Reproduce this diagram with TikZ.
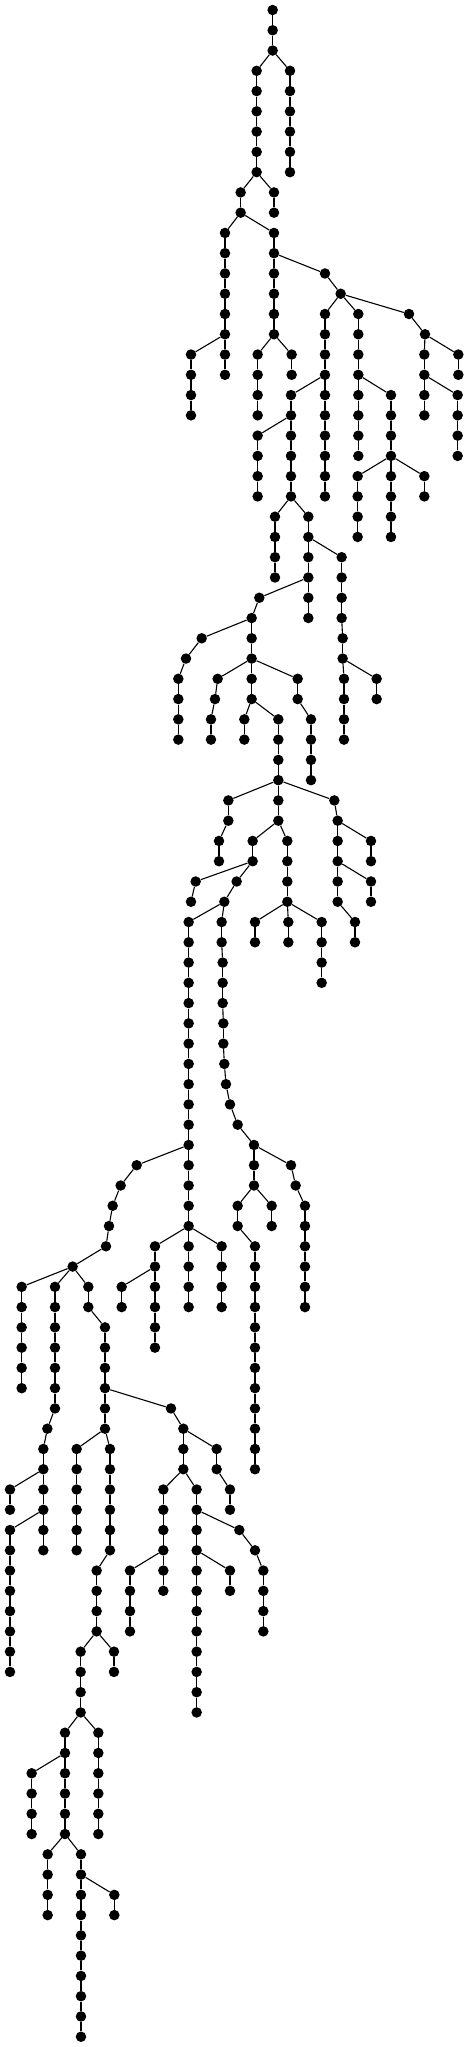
\documentclass[tikz,border=0pt]{standalone}
\tikzset{
  dot/.style={circle,fill=black,inner sep=0pt,minimum size=10.5pt},
  edge/.style={line width=1.1pt,black}
}
\newcommand\E[3]{\pgfmathtruncatemacro\pl{#1-1}\node[dot] (v#1x#2) at (#2,#1) {};\draw[edge] (v\pl x#3) -- (v#1x#2);}
\newcommand\C[3]{\foreach \l in {#2,...,#3}{\E{\l}{#1}{#1}}}
\begin{document}
\begin{tikzpicture}[x=0.333333pt,y=-20.267pt]
\useasboundingbox (0,-0.4934) rectangle (1404,100.508);
\node[dot] (v0x818) at (818,0) {};
\C{818}{1}{2}
\E{3}{770}{818} \C{770}{4}{8}
\E{3}{870}{818} \C{870}{4}{8}
\E{9}{722}{770} \E{10}{722}{722}
\E{9}{822}{770} \E{10}{822}{822}
\E{11}{675}{722} \C{675}{12}{16}
\E{11}{822}{722} \C{822}{12}{16}
\E{13}{975}{822} \E{14}{1022}{975}
\E{15}{975}{1022} \C{975}{16}{24}
\E{15}{1075}{1022} \C{1075}{16}{22}
\E{15}{1227}{1022} \E{16}{1275}{1227}
\E{17}{573}{675} \C{573}{18}{20}
\E{17}{675}{675} \E{18}{675}{675}
\E{17}{773}{822} \C{773}{18}{20}
\E{17}{875}{822} \E{18}{875}{875}
\E{17}{1273}{1275} \C{1273}{18}{20}
\E{17}{1375}{1275} \E{18}{1375}{1375}
\E{19}{873}{975} \C{873}{20}{24}
\E{19}{1173}{1075} \C{1173}{20}{22}
\E{19}{1373}{1273} \C{1373}{20}{22}
\E{21}{773}{873} \C{773}{22}{24}
\E{23}{1073}{1173} \C{1073}{24}{26}
\E{23}{1173}{1173} \C{1173}{24}{26}
\E{23}{1273}{1173} \E{24}{1273}{1273}
\E{25}{825}{873} \C{825}{26}{28}
\E{25}{925}{873} \C{925}{26}{30}
\E{27}{1025}{925} \C{1025}{28}{30}
\E{29}{778}{925} \E{30}{755}{778}
\E{31}{1028}{1025} \E{32}{1028}{1028}
\E{31}{605}{755} \E{32}{558}{605} \E{33}{535}{558} \C{535}{34}{36}
\E{31}{755}{755} \E{32}{755}{755}
\E{33}{653}{755} \E{34}{645}{653} \E{35}{633}{645} \E{36}{633}{633}
\E{33}{755}{755} \E{34}{755}{755}
\E{33}{893}{755} \E{34}{893}{893} \E{35}{933}{893} \C{933}{36}{38}
\E{33}{1032}{1028} \C{1032}{34}{36}
\E{33}{1130}{1028} \E{34}{1130}{1130}
\E{35}{733}{755} \E{36}{733}{733}
\E{35}{835}{755} \C{835}{36}{38}
\E{39}{685}{835} \E{40}{685}{685}
\E{39}{835}{835} \E{40}{835}{835}
\E{39}{1003}{835} \E{40}{1013}{1003}
\E{41}{657}{685} \E{42}{657}{657}
\E{41}{758}{835} \E{42}{758}{758}
\E{41}{862}{835} \C{862}{42}{44}
\E{41}{1013}{1013} \E{42}{1013}{1013}
\E{41}{1113}{1013} \E{42}{1113}{1113}
\E{43}{1013}{1013} \E{44}{1013}{1013}
\E{43}{1113}{1013} \E{44}{1113}{1113}
\E{45}{1065}{1013} \E{46}{1065}{1065}
\E{43}{587}{758} \E{44}{573}{587}
\E{43}{710}{758} \E{44}{673}{710}
\E{45}{566}{673} \C{566}{46}{64}
\E{45}{665}{673} \E{46}{665}{665} \E{47}{668}{665} \E{48}{668}{668} \E{49}{668}{668}
\E{50}{670}{668} \E{51}{670}{670} \E{52}{673}{670} \E{53}{678}{673} \E{54}{690}{678}
\E{55}{713}{690} \E{56}{762}{713}
\E{45}{765}{862} \E{46}{765}{765}
\E{45}{865}{862} \E{46}{865}{865}
\E{45}{965}{862} \C{965}{46}{48}
\E{57}{762}{762} \E{58}{762}{762}
\E{57}{873}{762} \E{58}{887}{873} \E{59}{915}{887} \C{915}{60}{64}
\E{59}{713}{762} \E{60}{713}{713} \E{61}{765}{713} \C{765}{62}{72}
\E{59}{815}{762} \E{60}{815}{815}
\E{57}{410}{566} \E{58}{362}{410} \E{59}{338}{362} \E{60}{327}{338} \E{61}{318}{327} \E{62}{218}{318}
\E{61}{465}{566} \C{465}{62}{66}
\E{61}{665}{566} \C{665}{62}{64}
\E{63}{365}{465} \E{64}{365}{365}
\E{63}{65}{218} \C{65}{64}{68}
\E{63}{165}{218} \C{165}{64}{69}
\E{63}{265}{218} \E{64}{265}{265}
\E{65}{315}{265} \C{315}{66}{70}
\E{69}{513}{315} \E{70}{550}{513} \C{550}{71}{72}
\E{70}{142}{165} \E{71}{130}{142} \C{130}{72}{74}
\E{73}{30}{130} \E{74}{30}{30}
\E{75}{30}{130} \C{30}{76}{82}
\E{75}{130}{130} \E{76}{130}{130}
\E{71}{230}{315} \C{230}{72}{76}
\E{71}{330}{315} \C{330}{72}{76}
\E{77}{290}{330} \C{290}{78}{80}
\E{81}{242}{290} \C{242}{82}{84}
\E{81}{342}{290} \E{82}{342}{342}
\E{85}{195}{242} \C{195}{86}{90}
\E{85}{295}{242} \C{295}{86}{90}
\E{87}{95}{195} \C{95}{88}{90}
\E{91}{143}{195} \C{143}{92}{94}
\E{91}{243}{195} \C{243}{92}{100}
\E{93}{343}{243} \E{94}{343}{343}
\E{71}{650}{550} \E{72}{650}{650} \E{73}{690}{650} \E{74}{690}{690}
\E{73}{490}{550} \C{490}{74}{76}
\E{77}{390}{490} \C{390}{78}{80}
\E{77}{490}{490} \E{78}{490}{490}
\E{73}{590}{550} \C{590}{74}{84}
\E{75}{718}{590} \E{76}{765}{718} \E{77}{790}{765} \C{790}{78}{80}
\E{77}{690}{590} \E{78}{690}{690}
\end{tikzpicture}
\end{document}
